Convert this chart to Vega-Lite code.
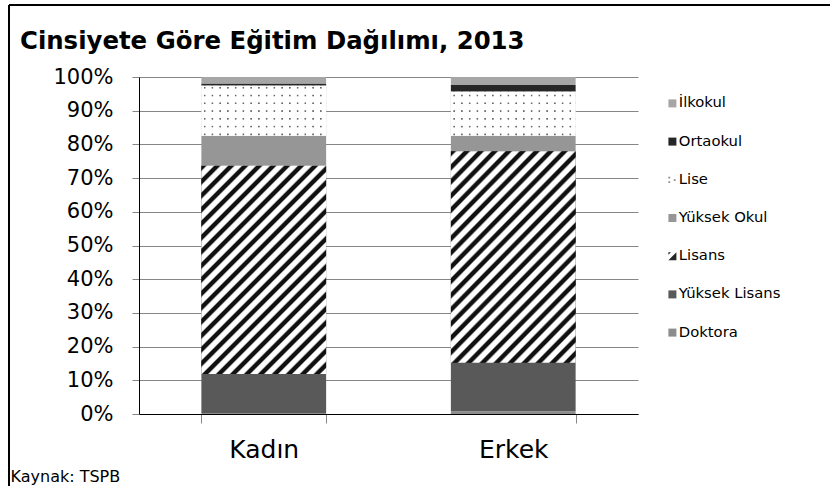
{
  "$schema": "https://vega.github.io/schema/vega-lite/v6.json",
  "width": 821,
  "height": 481,
  "autosize": {"type": "none"},
  "padding": {"left": 9, "top": 5, "right": 0, "bottom": 0},
  "background": "white",
  "config": {
    "font": "DejaVu Sans",
    "view": {"stroke": "#000000", "strokeWidth": 2, "strokeDash": [821, 1302, 481, 0]}
  },
  "title": {
    "text": "Cinsiyete Göre Eğitim Dağılımı, 2013",
    "anchor": "start",
    "frame": "group",
    "offset": -68,
    "dx": 11,
    "baseline": "alphabetic",
    "font": "DejaVu Sans",
    "fontSize": 24.4,
    "fontWeight": "bold",
    "color": "#000000"
  },
  "data": {
    "values": [
      {"cinsiyet": "Kadın", "egitim": "Doktora", "sira": 1, "oran": 0.3},
      {"cinsiyet": "Kadın", "egitim": "Yüksek Lisans", "sira": 2, "oran": 11.6},
      {"cinsiyet": "Kadın", "egitim": "Lisans", "sira": 3, "oran": 61.8},
      {"cinsiyet": "Kadın", "egitim": "Yüksek Okul", "sira": 4, "oran": 8.9},
      {"cinsiyet": "Kadın", "egitim": "Lise", "sira": 5, "oran": 14.8},
      {"cinsiyet": "Kadın", "egitim": "Ortaokul", "sira": 6, "oran": 0.7},
      {"cinsiyet": "Kadın", "egitim": "İlkokul", "sira": 7, "oran": 1.9},
      {"cinsiyet": "Erkek", "egitim": "Doktora", "sira": 1, "oran": 0.8},
      {"cinsiyet": "Erkek", "egitim": "Yüksek Lisans", "sira": 2, "oran": 14.4},
      {"cinsiyet": "Erkek", "egitim": "Lisans", "sira": 3, "oran": 62.8},
      {"cinsiyet": "Erkek", "egitim": "Yüksek Okul", "sira": 4, "oran": 4.6},
      {"cinsiyet": "Erkek", "egitim": "Lise", "sira": 5, "oran": 13.0},
      {"cinsiyet": "Erkek", "egitim": "Ortaokul", "sira": 6, "oran": 2.0},
      {"cinsiyet": "Erkek", "egitim": "İlkokul", "sira": 7, "oran": 2.4}
    ]
  },
  "transform": [
    {"stack": "oran", "groupby": ["cinsiyet"], "sort": [{"field": "sira", "order": "ascending"}], "offset": "normalize", "as": ["y0", "y1"]}
  ],
  "encoding": {
    "x": {
      "field": "cinsiyet",
      "type": "nominal",
      "sort": ["Kadın", "Erkek"],
      "scale": {"range": [130, 629], "paddingInner": 0.5, "paddingOuter": 0.25},
      "axis": {
        "orient": "bottom",
        "offset": -72,
        "labelAngle": 0,
        "labelFont": "DejaVu Sans",
        "labelFontSize": 25,
        "labelColor": "#000000",
        "labelPadding": 14,
        "tickBand": "extent",
        "tickColor": "#868686",
        "tickSize": 9,
        "domainColor": "#000000",
        "domainWidth": 1,
        "title": "Kaynak: TSPB",
        "titleX": 1,
        "titleY": 67,
        "titleAlign": "left",
        "titleBaseline": "alphabetic",
        "titleFont": "DejaVu Sans",
        "titleFontSize": 16,
        "titleFontWeight": "normal",
        "titleColor": "#000000",
        "zindex": 0
      }
    },
    "y": {
      "field": "y0",
      "type": "quantitative",
      "scale": {"domain": [0, 1], "range": [409, 72], "nice": false, "zero": false},
      "axis": {
        "orient": "left",
        "offset": -130,
        "values": [0, 0.1, 0.2, 0.3, 0.4, 0.5, 0.6, 0.7, 0.8, 0.9, 1],
        "format": ".0%",
        "grid": true,
        "gridColor": "#868686",
        "gridWidth": 1,
        "domainColor": "#000000",
        "domainWidth": 1,
        "tickColor": "#868686",
        "tickSize": 7,
        "labelFont": "DejaVu Sans",
        "labelFontSize": 21,
        "labelColor": "#000000",
        "labelPadding": 19,
        "title": null
      }
    }
  },
  "layer": [
    {
      "mark": {"type": "bar"},
      "encoding": {
        "y2": {"field": "y1"},
        "color": {
          "field": "egitim",
          "type": "nominal",
          "scale": {
            "domain": ["İlkokul", "Ortaokul", "Lise", "Yüksek Okul", "Lisans", "Yüksek Lisans", "Doktora"],
            "range": ["#a6a6a6", "#262626", "#8a8a8a", "#969696", "#262626", "#595959", "#8c8c8c"]
          }
        }
      }
    },
    {
      "mark": {"type": "point", "filled": true, "opacity": 0},
      "encoding": {
        "color": {
          "field": "egitim",
          "type": "nominal",
          "scale": {
            "domain": ["İlkokul", "Ortaokul", "Lise", "Yüksek Okul", "Lisans", "Yüksek Lisans", "Doktora"],
            "range": ["#a6a6a6", "#262626", "#8a8a8a", "#969696", "#262626", "#595959", "#8c8c8c"]
          },
          "legend": {
            "title": null,
            "orient": "none",
            "legendX": 656,
            "legendY": 91,
            "padding": 0,
            "symbolSize": 64,
            "symbolOpacity": 1,
            "symbolStrokeWidth": 0,
            "labelFont": "DejaVu Sans",
            "labelFontSize": 14.8,
            "labelColor": "#000000",
            "labelOffset": -1,
            "rowPadding": 22.2
          }
        },
        "shape": {
          "field": "egitim",
          "type": "nominal",
          "scale": {
            "domain": ["İlkokul", "Ortaokul", "Lise", "Yüksek Okul", "Lisans", "Yüksek Lisans", "Doktora"],
            "range": ["square", "square", "M-1,-0.75H-0.55V-0.3H-1Z M-1,0.35H-0.55V0.8H-1Z M0.35,-0.15H0.8V0.3H0.35Z", "square", "M1,-1L1,1L-1,1Z M-1,-1H-0.35L-1,-0.35Z", "square", "square"]
          },
          "legend": {
            "title": null,
            "orient": "none",
            "legendX": 656,
            "legendY": 91,
            "padding": 0,
            "symbolSize": 64,
            "symbolOpacity": 1,
            "symbolStrokeWidth": 0,
            "labelFont": "DejaVu Sans",
            "labelFontSize": 14.8,
            "labelColor": "#000000",
            "labelOffset": -1,
            "rowPadding": 22.2
          }
        }
      }
    },
    {
      "transform": [{"filter": "datum.egitim === 'Lisans'"}],
      "mark": {
        "type": "bar",
        "fill": {
          "gradient": "linear", "x1": 0, "y1": 0, "x2": 1, "y2": 1.666,
          "stops": [
            {"offset": 0, "color": "#111111"}, {"offset": 0.0089, "color": "#111111"}, {"offset": 0.0134, "color": "#ffffff"}, {"offset": 0.0252, "color": "#ffffff"},
            {"offset": 0.0297, "color": "#111111"}, {"offset": 0.0386, "color": "#111111"}, {"offset": 0.0430, "color": "#ffffff"}, {"offset": 0.0549, "color": "#ffffff"},
            {"offset": 0.0593, "color": "#111111"}, {"offset": 0.0682, "color": "#111111"}, {"offset": 0.0727, "color": "#ffffff"}, {"offset": 0.0845, "color": "#ffffff"},
            {"offset": 0.0890, "color": "#111111"}, {"offset": 0.0979, "color": "#111111"}, {"offset": 0.1023, "color": "#ffffff"}, {"offset": 0.1142, "color": "#ffffff"},
            {"offset": 0.1186, "color": "#111111"}, {"offset": 0.1275, "color": "#111111"}, {"offset": 0.1320, "color": "#ffffff"}, {"offset": 0.1439, "color": "#ffffff"},
            {"offset": 0.1483, "color": "#111111"}, {"offset": 0.1572, "color": "#111111"}, {"offset": 0.1617, "color": "#ffffff"}, {"offset": 0.1735, "color": "#ffffff"},
            {"offset": 0.1780, "color": "#111111"}, {"offset": 0.1869, "color": "#111111"}, {"offset": 0.1913, "color": "#ffffff"}, {"offset": 0.2032, "color": "#ffffff"},
            {"offset": 0.2076, "color": "#111111"}, {"offset": 0.2165, "color": "#111111"}, {"offset": 0.2210, "color": "#ffffff"}, {"offset": 0.2328, "color": "#ffffff"},
            {"offset": 0.2373, "color": "#111111"}, {"offset": 0.2462, "color": "#111111"}, {"offset": 0.2506, "color": "#ffffff"}, {"offset": 0.2625, "color": "#ffffff"},
            {"offset": 0.2669, "color": "#111111"}, {"offset": 0.2758, "color": "#111111"}, {"offset": 0.2803, "color": "#ffffff"}, {"offset": 0.2922, "color": "#ffffff"},
            {"offset": 0.2966, "color": "#111111"}, {"offset": 0.3055, "color": "#111111"}, {"offset": 0.3100, "color": "#ffffff"}, {"offset": 0.3218, "color": "#ffffff"},
            {"offset": 0.3263, "color": "#111111"}, {"offset": 0.3352, "color": "#111111"}, {"offset": 0.3396, "color": "#ffffff"}, {"offset": 0.3515, "color": "#ffffff"},
            {"offset": 0.3559, "color": "#111111"}, {"offset": 0.3648, "color": "#111111"}, {"offset": 0.3693, "color": "#ffffff"}, {"offset": 0.3811, "color": "#ffffff"},
            {"offset": 0.3856, "color": "#111111"}, {"offset": 0.3945, "color": "#111111"}, {"offset": 0.3989, "color": "#ffffff"}, {"offset": 0.4108, "color": "#ffffff"},
            {"offset": 0.4152, "color": "#111111"}, {"offset": 0.4241, "color": "#111111"}, {"offset": 0.4286, "color": "#ffffff"}, {"offset": 0.4405, "color": "#ffffff"},
            {"offset": 0.4449, "color": "#111111"}, {"offset": 0.4538, "color": "#111111"}, {"offset": 0.4583, "color": "#ffffff"}, {"offset": 0.4701, "color": "#ffffff"},
            {"offset": 0.4746, "color": "#111111"}, {"offset": 0.4835, "color": "#111111"}, {"offset": 0.4879, "color": "#ffffff"}, {"offset": 0.4998, "color": "#ffffff"},
            {"offset": 0.5042, "color": "#111111"}, {"offset": 0.5131, "color": "#111111"}, {"offset": 0.5176, "color": "#ffffff"}, {"offset": 0.5294, "color": "#ffffff"},
            {"offset": 0.5339, "color": "#111111"}, {"offset": 0.5428, "color": "#111111"}, {"offset": 0.5472, "color": "#ffffff"}, {"offset": 0.5591, "color": "#ffffff"},
            {"offset": 0.5635, "color": "#111111"}, {"offset": 0.5724, "color": "#111111"}, {"offset": 0.5769, "color": "#ffffff"}, {"offset": 0.5888, "color": "#ffffff"},
            {"offset": 0.5932, "color": "#111111"}, {"offset": 0.6021, "color": "#111111"}, {"offset": 0.6066, "color": "#ffffff"}, {"offset": 0.6184, "color": "#ffffff"},
            {"offset": 0.6229, "color": "#111111"}, {"offset": 0.6318, "color": "#111111"}, {"offset": 0.6362, "color": "#ffffff"}, {"offset": 0.6481, "color": "#ffffff"},
            {"offset": 0.6525, "color": "#111111"}, {"offset": 0.6614, "color": "#111111"}, {"offset": 0.6659, "color": "#ffffff"}, {"offset": 0.6777, "color": "#ffffff"},
            {"offset": 0.6822, "color": "#111111"}, {"offset": 0.6911, "color": "#111111"}, {"offset": 0.6955, "color": "#ffffff"}, {"offset": 0.7074, "color": "#ffffff"},
            {"offset": 0.7118, "color": "#111111"}, {"offset": 1, "color": "#111111"}
          ]
        }
      },
      "encoding": {"y2": {"field": "y1"}}
    },
    {
      "transform": [{"filter": "datum.egitim === 'Lise'"}],
      "mark": {
        "type": "bar",
        "fill": {
          "gradient": "linear", "x1": 0, "y1": 0, "x2": 1, "y2": 0,
          "stops": [
            {"offset": 0, "color": "#ffffff"},
            {"offset": 0.0168, "color": "#ffffff"}, {"offset": 0.0232, "color": "#666666"}, {"offset": 0.0296, "color": "#666666"}, {"offset": 0.0360, "color": "#ffffff"},
            {"offset": 0.0789, "color": "#ffffff"}, {"offset": 0.0853, "color": "#666666"}, {"offset": 0.0917, "color": "#666666"}, {"offset": 0.0981, "color": "#ffffff"},
            {"offset": 0.1410, "color": "#ffffff"}, {"offset": 0.1474, "color": "#666666"}, {"offset": 0.1538, "color": "#666666"}, {"offset": 0.1602, "color": "#ffffff"},
            {"offset": 0.2030, "color": "#ffffff"}, {"offset": 0.2094, "color": "#666666"}, {"offset": 0.2158, "color": "#666666"}, {"offset": 0.2222, "color": "#ffffff"},
            {"offset": 0.2651, "color": "#ffffff"}, {"offset": 0.2715, "color": "#666666"}, {"offset": 0.2779, "color": "#666666"}, {"offset": 0.2843, "color": "#ffffff"},
            {"offset": 0.3272, "color": "#ffffff"}, {"offset": 0.3336, "color": "#666666"}, {"offset": 0.3400, "color": "#666666"}, {"offset": 0.3464, "color": "#ffffff"},
            {"offset": 0.3893, "color": "#ffffff"}, {"offset": 0.3957, "color": "#666666"}, {"offset": 0.4021, "color": "#666666"}, {"offset": 0.4085, "color": "#ffffff"},
            {"offset": 0.4514, "color": "#ffffff"}, {"offset": 0.4578, "color": "#666666"}, {"offset": 0.4642, "color": "#666666"}, {"offset": 0.4706, "color": "#ffffff"},
            {"offset": 0.5134, "color": "#ffffff"}, {"offset": 0.5198, "color": "#666666"}, {"offset": 0.5262, "color": "#666666"}, {"offset": 0.5326, "color": "#ffffff"},
            {"offset": 0.5755, "color": "#ffffff"}, {"offset": 0.5819, "color": "#666666"}, {"offset": 0.5883, "color": "#666666"}, {"offset": 0.5947, "color": "#ffffff"},
            {"offset": 0.6376, "color": "#ffffff"}, {"offset": 0.6440, "color": "#666666"}, {"offset": 0.6504, "color": "#666666"}, {"offset": 0.6568, "color": "#ffffff"},
            {"offset": 0.6997, "color": "#ffffff"}, {"offset": 0.7061, "color": "#666666"}, {"offset": 0.7125, "color": "#666666"}, {"offset": 0.7189, "color": "#ffffff"},
            {"offset": 0.7618, "color": "#ffffff"}, {"offset": 0.7682, "color": "#666666"}, {"offset": 0.7746, "color": "#666666"}, {"offset": 0.7810, "color": "#ffffff"},
            {"offset": 0.8238, "color": "#ffffff"}, {"offset": 0.8302, "color": "#666666"}, {"offset": 0.8366, "color": "#666666"}, {"offset": 0.8430, "color": "#ffffff"},
            {"offset": 0.8859, "color": "#ffffff"}, {"offset": 0.8923, "color": "#666666"}, {"offset": 0.8987, "color": "#666666"}, {"offset": 0.9051, "color": "#ffffff"},
            {"offset": 0.9480, "color": "#ffffff"}, {"offset": 0.9544, "color": "#666666"}, {"offset": 0.9608, "color": "#666666"}, {"offset": 0.9672, "color": "#ffffff"},
            {"offset": 1, "color": "#ffffff"}
          ]
        }
      },
      "encoding": {"y2": {"field": "y1"}}
    },
    {
      "transform": [{"filter": "datum.egitim === 'Lise' && datum.cinsiyet === 'Kadın'"}],
      "mark": {
        "type": "bar",
        "fill": {
          "gradient": "linear", "x1": 0, "y1": 0, "x2": 0, "y2": 1,
          "stops": [
            {"offset": 0, "color": "#ffffff"},
            {"offset": 0.016, "color": "#ffffff"}, {"offset": 0.032, "color": "rgba(255,255,255,0)"}, {"offset": 0.048, "color": "rgba(255,255,255,0)"}, {"offset": 0.064, "color": "#ffffff"},
            {"offset": 0.172, "color": "#ffffff"}, {"offset": 0.188, "color": "rgba(255,255,255,0)"}, {"offset": 0.204, "color": "rgba(255,255,255,0)"}, {"offset": 0.220, "color": "#ffffff"},
            {"offset": 0.327, "color": "#ffffff"}, {"offset": 0.343, "color": "rgba(255,255,255,0)"}, {"offset": 0.359, "color": "rgba(255,255,255,0)"}, {"offset": 0.375, "color": "#ffffff"},
            {"offset": 0.483, "color": "#ffffff"}, {"offset": 0.499, "color": "rgba(255,255,255,0)"}, {"offset": 0.515, "color": "rgba(255,255,255,0)"}, {"offset": 0.531, "color": "#ffffff"},
            {"offset": 0.639, "color": "#ffffff"}, {"offset": 0.655, "color": "rgba(255,255,255,0)"}, {"offset": 0.671, "color": "rgba(255,255,255,0)"}, {"offset": 0.687, "color": "#ffffff"},
            {"offset": 0.794, "color": "#ffffff"}, {"offset": 0.810, "color": "rgba(255,255,255,0)"}, {"offset": 0.826, "color": "rgba(255,255,255,0)"}, {"offset": 0.842, "color": "#ffffff"},
            {"offset": 0.950, "color": "#ffffff"}, {"offset": 0.966, "color": "rgba(255,255,255,0)"}, {"offset": 0.982, "color": "rgba(255,255,255,0)"}, {"offset": 0.998, "color": "#ffffff"},
            {"offset": 1, "color": "#ffffff"}
          ]
        }
      },
      "encoding": {"y2": {"field": "y1"}}
    },
    {
      "transform": [{"filter": "datum.egitim === 'Lise' && datum.cinsiyet === 'Erkek'"}],
      "mark": {
        "type": "bar",
        "fill": {
          "gradient": "linear", "x1": 0, "y1": 0, "x2": 0, "y2": 1,
          "stops": [
            {"offset": 0, "color": "#ffffff"},
            {"offset": 0.0571, "color": "#ffffff"}, {"offset": 0.0754, "color": "rgba(255,255,255,0)"}, {"offset": 0.0936, "color": "rgba(255,255,255,0)"}, {"offset": 0.1119, "color": "#ffffff"},
            {"offset": 0.2346, "color": "#ffffff"}, {"offset": 0.2529, "color": "rgba(255,255,255,0)"}, {"offset": 0.2711, "color": "rgba(255,255,255,0)"}, {"offset": 0.2894, "color": "#ffffff"},
            {"offset": 0.4116, "color": "#ffffff"}, {"offset": 0.4299, "color": "rgba(255,255,255,0)"}, {"offset": 0.4481, "color": "rgba(255,255,255,0)"}, {"offset": 0.4664, "color": "#ffffff"},
            {"offset": 0.5896, "color": "#ffffff"}, {"offset": 0.6079, "color": "rgba(255,255,255,0)"}, {"offset": 0.6261, "color": "rgba(255,255,255,0)"}, {"offset": 0.6444, "color": "#ffffff"},
            {"offset": 0.7666, "color": "#ffffff"}, {"offset": 0.7849, "color": "rgba(255,255,255,0)"}, {"offset": 0.8031, "color": "rgba(255,255,255,0)"}, {"offset": 0.8214, "color": "#ffffff"},
            {"offset": 0.9436, "color": "#ffffff"}, {"offset": 0.9619, "color": "rgba(255,255,255,0)"}, {"offset": 0.9801, "color": "rgba(255,255,255,0)"}, {"offset": 0.9984, "color": "#ffffff"},
            {"offset": 1, "color": "#ffffff"}
          ]
        }
      },
      "encoding": {"y2": {"field": "y1"}}
    }
  ]
}
